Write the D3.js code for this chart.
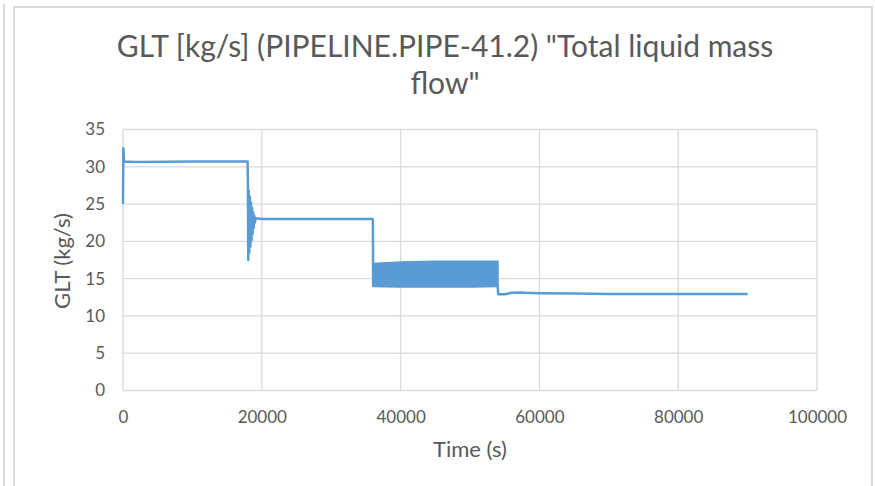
<!DOCTYPE html>
<html>
<head>
<meta charset="utf-8">
<style>
  html, body { margin: 0; padding: 0; background: #fff; }
  svg { display: block; font-family: Lato, 'Open Sans', sans-serif; }
</style>
</head>
<body>
<svg width="875" height="486"></svg>
<script src="https://cdn.jsdelivr.net/npm/d3@7"></script>
<script>
'use strict';

/* Main trace. */
var times = [0, 50, 150, 2000, 10000, 17950, 18000, 18050,
  18120, 18200, 18280, 18360, 18440, 18520, 18600, 18680, 18760, 18840, 18920, 19000, 19100,
  20000, 30000, 35950, 36000, 36050, 54000, 54050, 55000, 56000, 57000, 58000, 60000,
  65000, 70000, 80000, 90000];
var values = [25.0, 32.5, 30.7, 30.65, 30.7, 30.7, 27.5, 17.5,
  26.8, 18.5, 26.0, 19.3, 25.2, 20.2, 24.5, 21.0, 23.9, 21.8, 23.4, 22.5, 23.1,
  23.0, 23.0, 23.0, 22.9, 14.0, 14.0, 12.9, 12.9, 13.1, 13.15, 13.1, 13.05,
  13.0, 12.95, 12.95, 12.95];

/* Dense oscillation between 36000 s and 54000 s: its envelope. */
var bandTimes = [36050, 40000, 45000, 50000, 54000];
var bandUpper = [17.0, 17.2, 17.3, 17.3, 17.3];
var bandLower = [14.0, 13.9, 13.9, 13.9, 14.0];

/* Tick labels. */
var xTicks = [0, 20000, 40000, 60000, 80000, 100000];
var yTicks = [0, 5, 10, 15, 20, 25, 30, 35];

var grey = '#595959';
var blue = '#5b9bd5';

var svg = d3.select('svg');

/* Chart frame, as in the screenshot. */
svg.append('line')
  .attr('x1', 4).attr('x2', 4).attr('y1', 4).attr('y2', 486)
  .attr('stroke', '#d9d9d9').attr('stroke-width', 2);

svg.append('path')
  .attr('d', 'M14,486V7H872V486')
  .attr('fill', 'none')
  .attr('stroke', '#d9d9d9')
  .attr('stroke-width', 2);

/* Scales. */
var x = d3.scaleLinear().domain([0, 100000]).range([123, 817]);
var y = d3.scaleLinear().domain([0, 35]).range([390.5, 129.5]);

/* Grid lines. */
svg.append('g')
  .selectAll('line')
  .data(yTicks)
  .enter()
  .append('line')
  .attr('x1', x(0)).attr('x2', x(100000))
  .attr('y1', y).attr('y2', y)
  .attr('stroke', '#d9d9d9')
  .attr('stroke-width', 1.3);

svg.append('g')
  .selectAll('line')
  .data(xTicks)
  .enter()
  .append('line')
  .attr('x1', x).attr('x2', x)
  .attr('y1', y(0)).attr('y2', y(35))
  .attr('stroke', '#d9d9d9')
  .attr('stroke-width', 1.3);

/* Axes, labels only. */
var xAxis = svg.append('g')
  .attr('transform', 'translate(0,' + y(0) + ')')
  .call(d3.axisBottom(x).tickValues(xTicks).tickFormat(d3.format('d')).tickSize(0).tickPadding(20));

var yAxis = svg.append('g')
  .attr('transform', 'translate(' + x(0) + ',0)')
  .call(d3.axisLeft(y).tickValues(yTicks).tickSize(0).tickPadding(18));

[xAxis, yAxis].forEach(function (axis) {
  axis.select('.domain').remove();
  axis.selectAll('text')
    .attr('fill', grey)
    .style('font-size', '17px')
    .style('font-family', 'Lato, sans-serif');
});

/* Oscillation band. */
var area = d3.area()
  .x(function (d, i) { return x(bandTimes[i]); })
  .y0(function (d, i) { return y(bandLower[i]); })
  .y1(function (d, i) { return y(bandUpper[i]); });

svg.append('path')
  .attr('d', area(bandTimes))
  .attr('fill', blue)
  .attr('stroke', blue)
  .attr('stroke-width', 2);

/* The trace. */
var line = d3.line()
  .x(function (d, i) { return x(times[i]); })
  .y(function (d, i) { return y(values[i]); });

svg.append('path')
  .attr('d', line(times))
  .attr('fill', 'none')
  .attr('stroke', blue)
  .attr('stroke-width', 2.5)
  .attr('stroke-linejoin', 'round');

/* Titles. */
var title = svg.append('text')
  .attr('text-anchor', 'middle')
  .attr('fill', grey)
  .style('font-size', '30px');

title.append('tspan').attr('x', 445).attr('y', 57)
  .text('GLT [kg/s] (PIPELINE.PIPE-41.2) "Total liquid mass');
title.append('tspan').attr('x', 445).attr('y', 94)
  .text('flow"');

svg.append('text')
  .attr('x', 470).attr('y', 457)
  .attr('text-anchor', 'middle')
  .attr('fill', grey)
  .style('font-size', '22px')
  .text('Time (s)');

svg.append('text')
  .attr('transform', 'translate(70,261) rotate(-90)')
  .attr('text-anchor', 'middle')
  .attr('fill', grey)
  .style('font-size', '22px')
  .text('GLT (kg/s)');
</script>
</body>
</html>
